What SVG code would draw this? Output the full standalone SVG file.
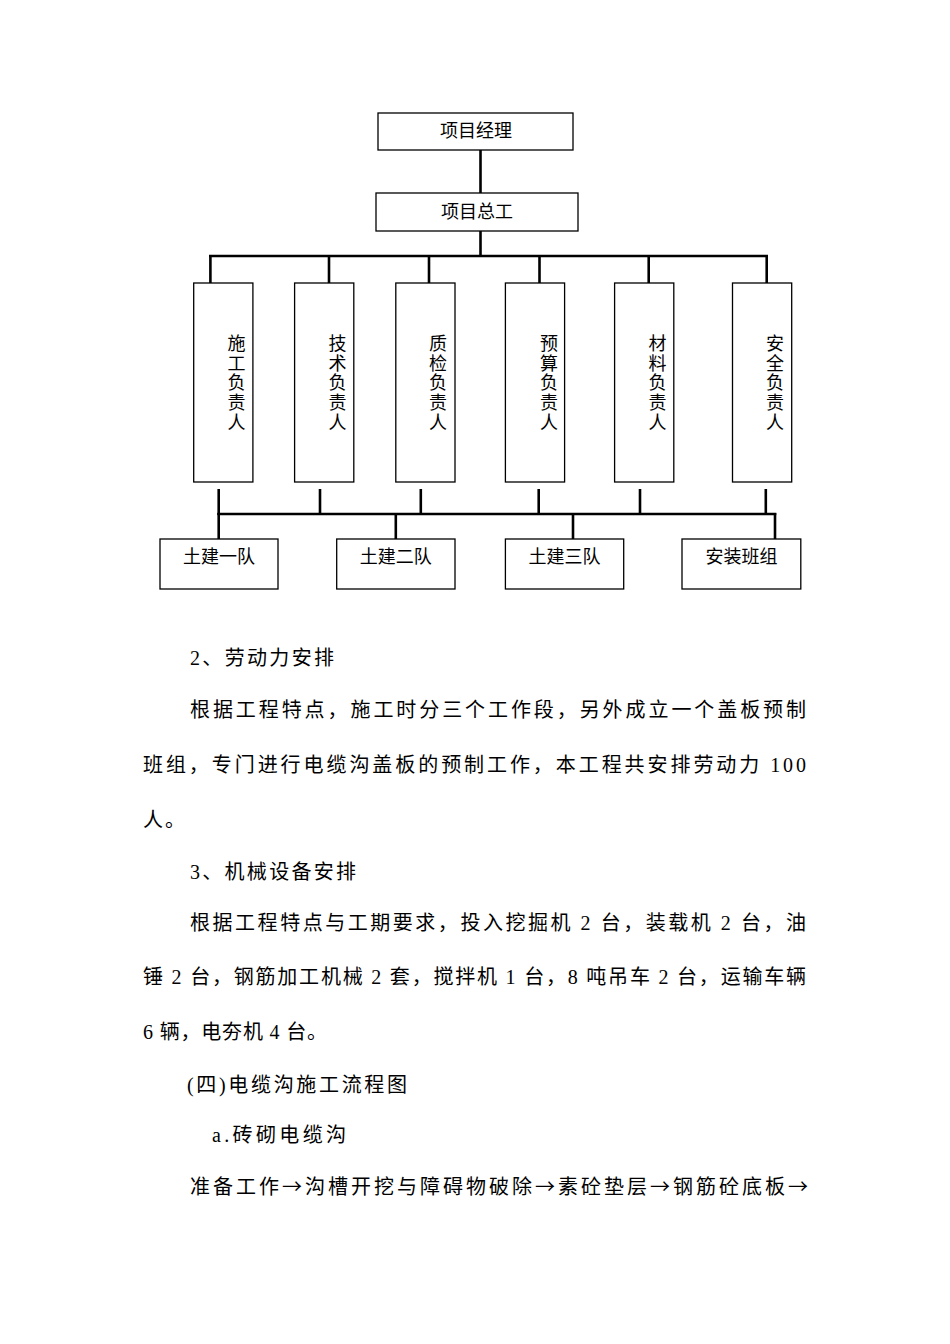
<svg xmlns="http://www.w3.org/2000/svg" width="950" height="1344" viewBox="0 0 950 1344">
<style>
.box{fill:#fff;stroke:#000;stroke-width:1.3}
.lbl{font-family:"Noto Sans CJK SC","Noto Sans",sans-serif;font-size:18px;fill:#000;text-anchor:middle}
.vl{font-family:"Noto Sans CJK SC","Noto Sans",sans-serif;font-size:18px;fill:#000;writing-mode:vertical-rl;text-orientation:upright;letter-spacing:1.75px}
.con{stroke:#000;stroke-width:2.6;fill:none}
.body{font-family:"Liberation Serif","Noto Sans CJK SC",serif;font-size:20px;fill:#000}
.arr{font-family:"Noto Sans CJK SC",sans-serif}
</style>
<rect width="950" height="1344" fill="#fff"/>
<g id="connectors">
<line class="con" x1="480.5" y1="150" x2="480.5" y2="193"/>
<line class="con" x1="480.5" y1="231" x2="480.5" y2="256"/>
<line class="con" x1="209" y1="256" x2="768" y2="256"/>
<line class="con" x1="210.4" y1="255" x2="210.4" y2="283"/>
<line class="con" x1="329" y1="255" x2="329" y2="283"/>
<line class="con" x1="429" y1="255" x2="429" y2="283"/>
<line class="con" x1="539.5" y1="255" x2="539.5" y2="283"/>
<line class="con" x1="648.7" y1="255" x2="648.7" y2="283"/>
<line class="con" x1="766.7" y1="255" x2="766.7" y2="283"/>
<line class="con" x1="218.7" y1="489" x2="218.7" y2="515"/>
<line class="con" x1="320" y1="489" x2="320" y2="515"/>
<line class="con" x1="420.8" y1="489" x2="420.8" y2="515"/>
<line class="con" x1="538.7" y1="489" x2="538.7" y2="515"/>
<line class="con" x1="640" y1="489" x2="640" y2="515"/>
<line class="con" x1="765.8" y1="489" x2="765.8" y2="515"/>
<line class="con" x1="217.4" y1="514" x2="776.3" y2="514"/>
<line class="con" x1="218.7" y1="513" x2="218.7" y2="539"/>
<line class="con" x1="395.8" y1="513" x2="395.8" y2="539"/>
<line class="con" x1="573" y1="513" x2="573" y2="539"/>
<line class="con" x1="775" y1="513" x2="775" y2="539"/>
</g>
<g id="n-manager"><rect class="box" x="378" y="113" width="195" height="37"/><text class="lbl" x="476" y="137">项目经理</text></g>
<g id="n-chief"><rect class="box" x="376" y="193" width="202" height="38"/><text class="lbl" x="477" y="218">项目总工</text></g>
<g id="n-shigong"><rect class="box" x="193.7" y="283" width="59.2" height="199"/><text class="vl" x="236.5" y="334">施工负责人</text></g>
<g id="n-jishu"><rect class="box" x="294.6" y="283" width="59.2" height="199"/><text class="vl" x="337.5" y="334">技术负责人</text></g>
<g id="n-zhijian"><rect class="box" x="395.8" y="283" width="59.2" height="199"/><text class="vl" x="438" y="334">质检负责人</text></g>
<g id="n-yusuan"><rect class="box" x="505.4" y="283" width="59.2" height="199"/><text class="vl" x="549" y="334">预算负责人</text></g>
<g id="n-cailiao"><rect class="box" x="614.6" y="283" width="59.2" height="199"/><text class="vl" x="657.5" y="334">材料负责人</text></g>
<g id="n-anquan"><rect class="box" x="732.5" y="283" width="59.2" height="199"/><text class="vl" x="775" y="334">安全负责人</text></g>
<g id="n-team1"><rect class="box" x="160" y="539" width="118" height="50"/><text class="lbl" x="219" y="563">土建一队</text></g>
<g id="n-team2"><rect class="box" x="336.7" y="539" width="118.3" height="50"/><text class="lbl" x="395.8" y="563">土建二队</text></g>
<g id="n-team3"><rect class="box" x="505.4" y="539" width="118.3" height="50"/><text class="lbl" x="564.5" y="563">土建三队</text></g>
<g id="n-install"><rect class="box" x="682" y="539" width="118.8" height="50"/><text class="lbl" x="741.4" y="563">安装班组</text></g>
<g id="body-text">
<text class="body" x="190" y="665" textLength="144" lengthAdjust="spacing">2、劳动力安排</text>
<text class="body" x="190" y="717" textLength="616" lengthAdjust="spacing">根据工程特点，施工时分三个工作段，另外成立一个盖板预制</text>
<text class="body" x="143" y="772" textLength="663" lengthAdjust="spacing">班组，专门进行电缆沟盖板的预制工作，本工程共安排劳动力 100</text>
<text class="body" x="143" y="827" textLength="42" lengthAdjust="spacing">人。</text>
<text class="body" x="190" y="879" textLength="166" lengthAdjust="spacing">3、机械设备安排</text>
<text class="body" x="190" y="930" textLength="616" lengthAdjust="spacing">根据工程特点与工期要求，投入挖掘机 2 台，装载机 2 台，油</text>
<text class="body" x="143" y="984" textLength="663" lengthAdjust="spacing">锤 2 台，钢筋加工机械 2 套，搅拌机 1 台，8 吨吊车 2 台，运输车辆</text>
<text class="body" x="143" y="1039" textLength="184" lengthAdjust="spacing">6 辆，电夯机 4 台。</text>
<text class="body" x="187" y="1092" textLength="220" lengthAdjust="spacing">(四)电缆沟施工流程图</text>
<text class="body" x="212" y="1142" textLength="134" lengthAdjust="spacing">a.砖砌电缆沟</text>
<text class="body" x="190" y="1194" textLength="618" lengthAdjust="spacing">准备工作<tspan class="arr">→</tspan>沟槽开挖与障碍物破除<tspan class="arr">→</tspan>素砼垫层<tspan class="arr">→</tspan>钢筋砼底板<tspan class="arr">→</tspan></text>
</g>
</svg>
